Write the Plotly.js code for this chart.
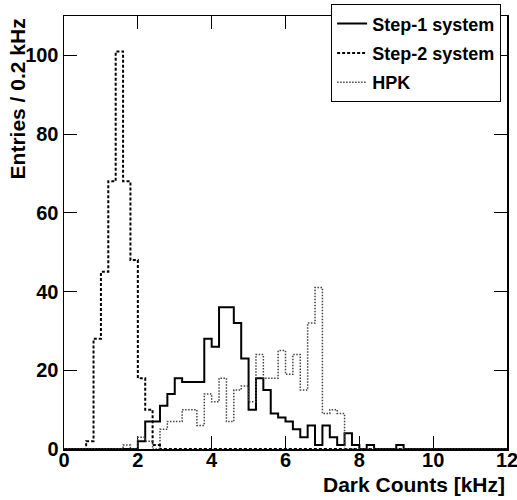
<!DOCTYPE html>
<html>
<head>
<meta charset="utf-8">
<script src="https://cdn.plot.ly/plotly-3.0.1.min.js"></script>
<style>
  html, body { margin: 0; padding: 0; background: #fff; }
  #chart { width: 517px; height: 500px; }
</style>
</head>
<body>
<div id="chart"></div>
<script>
// Histogram binning: 0.2 kHz bins from 0 to 12 kHz
const binWidth = 0.2;
const xMin = 0;
const xMax = 12;

// Step-1 system: counts per bin, first bin starts at 2.0 kHz
const step1Start = 2.0;
const step1Counts = [2, 7, 7, 11, 14, 18, 17, 17, 17, 28, 26, 36, 36, 32, 23, 10, 18, 15,
                     9, 8, 7, 5, 3, 6, 1, 6, 3, 1, 4, 1, 0, 1, 0, 0, 0, 1];

// Step-2 system: counts per bin, first bin starts at 0.6 kHz
const step2Start = 0.6;
const step2Counts = [2, 28, 45, 68, 101, 68, 48, 18, 10, 1];

// HPK: counts per bin, first bin starts at 1.6 kHz
const hpkStart = 1.6;
const hpkCounts = [1, 0, 3, 2, 0, 5, 7, 7, 10, 10, 6, 14, 12, 18, 7, 15, 16, 12, 24, 18,
                   18, 25, 19, 24, 15, 32, 41, 9, 10, 9];

const seriesNames = ["Step-1 system", "Step-2 system", "HPK"];
const xTickVals = [0, 2, 4, 6, 8, 10, 12];
const yTickVals = [0, 20, 40, 60, 80, 100];

const nBins = Math.round((xMax - xMin) / binWidth);
const edges = [];
for (let i = 0; i <= nBins; i++) edges.push(+(xMin + i * binWidth).toFixed(4));

function stepY(start, counts) {
  const full = new Array(nBins).fill(0);
  const off = Math.round((start - xMin) / binWidth);
  counts.forEach((v, i) => { full[off + i] = v; });
  full.push(full[nBins - 1]);
  return full;
}

const font = "Liberation Sans, Arial, Helvetica, sans-serif";

const traces = [
  {
    x: edges, y: stepY(step1Start, step1Counts), name: seriesNames[0],
    type: "scatter", mode: "lines", line: { shape: "hv", color: "#000", width: 2 },
    legendgroup: "a", hoverinfo: "skip"
  },
  {
    x: edges, y: stepY(step2Start, step2Counts), name: seriesNames[1],
    type: "scatter", mode: "lines", line: { shape: "hv", color: "#000", width: 2, dash: "3px,2px" },
    legendgroup: "b", hoverinfo: "skip"
  },
  {
    x: edges, y: stepY(hpkStart, hpkCounts), name: seriesNames[2],
    type: "scatter", mode: "lines", line: { shape: "hv", color: "#444", width: 1.5, dash: "1.5px,1.5px" },
    legendgroup: "c", hoverinfo: "skip"
  }
];

const axisCommon = {
  showgrid: false, zeroline: false, showline: true, linecolor: "#000", linewidth: 1.5,
  mirror: "ticks", ticks: "inside", ticklen: 13, tickwidth: 1, tickcolor: "#000",
  tickfont: { family: font, size: 20, color: "#000", weight: 700 },
  ticklabeloverflow: "allow",
  layer: "below traces"
};

const layout = {
  width: 517, height: 500,
  margin: { l: 64, r: 10, t: 4, b: 51 },
  paper_bgcolor: "#fff", plot_bgcolor: "#fff",
  showlegend: true,
  xaxis: Object.assign({}, axisCommon, {
    range: [xMin, xMax], tickmode: "array", tickvals: xTickVals, ticktext: xTickVals.map(String),
    ticklabelstandoff: -8
  }),
  yaxis: Object.assign({}, axisCommon, {
    range: [0, 110], tickmode: "array", tickvals: yTickVals, ticktext: yTickVals.map(String)
  }),
  legend: {
    x: 0.603, xanchor: "left", y: 1.027, yanchor: "top",
    bgcolor: "#fff", bordercolor: "#000", borderwidth: 1,
    font: { family: font, size: 18, color: "#000", weight: 700 },
    tracegroupgap: 3
  },
  annotations: [
    {
      text: "Entries / 0.2 kHz", xref: "paper", yref: "paper",
      x: -0.104, xanchor: "center", y: 1.0, yanchor: "top", textangle: -90,
      showarrow: false, font: { family: font, size: 21, color: "#000", weight: 700 }
    },
    {
      text: "Dark Counts [kHz]", xref: "paper", yref: "paper",
      x: 1.0, xanchor: "right", y: -0.081, yanchor: "middle",
      showarrow: false, font: { family: font, size: 21, color: "#000", weight: 700 }
    }
  ]
};

Plotly.newPlot("chart", traces, layout, { displayModeBar: false, staticPlot: true });
</script>
</body>
</html>
